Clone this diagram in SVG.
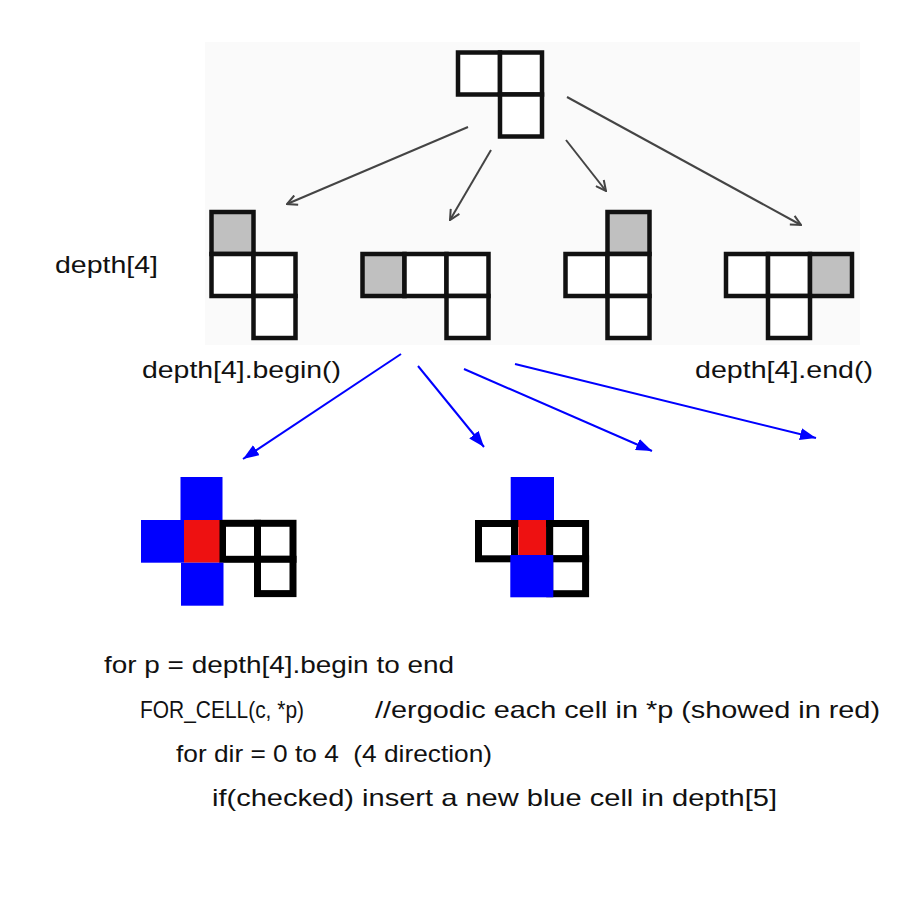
<svg xmlns="http://www.w3.org/2000/svg" width="900" height="900" viewBox="0 0 900 900">
<style>
.cell{fill:#ffffff;stroke:#111;stroke-width:4.5;stroke-linejoin:miter}
.grey{fill:#c0c0c0}
.bcell{fill:#ffffff;stroke:#000;stroke-width:7}
.blue{fill:#0000ff}
.red{fill:#ee1111}
.txt{font-family:"Liberation Sans",Arial,sans-serif;font-size:24px;fill:#111}
.tarrow{stroke:#444;stroke-width:2;fill:none;marker-end:url(#open)}
.barrow{stroke:#0000ff;stroke-width:2;fill:none;marker-end:url(#solid)}
</style>
<defs>
<marker id="open" viewBox="0 0 12 12" refX="11" refY="6" markerWidth="12" markerHeight="12" markerUnits="userSpaceOnUse" orient="auto">
<path d="M1,1 L11,6 L1,11" fill="none" stroke="#444" stroke-width="2"/>
</marker>
<marker id="solid" viewBox="0 0 16 12" refX="16" refY="6" markerWidth="16" markerHeight="12" markerUnits="userSpaceOnUse" orient="auto">
<path d="M0,0 L16,6 L0,12 Z" fill="#0000ff"/>
</marker>
</defs>
<rect width="900" height="900" fill="#ffffff"/>
<rect x="205" y="42" width="655" height="303" fill="#fafafa"/>

<g id="root">
<rect class="cell" x="458" y="52.5" width="42" height="42"/>
<rect class="cell" x="500" y="52.5" width="42" height="42"/>
<rect class="cell" x="500" y="94.5" width="42" height="42"/>
</g>

<g id="child1">
<rect class="cell grey" x="211.5" y="212" width="42" height="42"/>
<rect class="cell" x="211.5" y="254" width="42" height="42"/>
<rect class="cell" x="253.5" y="254" width="42" height="42"/>
<rect class="cell" x="253.5" y="296" width="42" height="42"/>
</g>

<g id="child2">
<rect class="cell grey" x="362.5" y="254" width="42" height="42"/>
<rect class="cell" x="404.5" y="254" width="42" height="42"/>
<rect class="cell" x="446.5" y="254" width="42" height="42"/>
<rect class="cell" x="446.5" y="296" width="42" height="42"/>
</g>

<g id="child3">
<rect class="cell grey" x="607.5" y="212" width="42" height="42"/>
<rect class="cell" x="565.5" y="254" width="42" height="42"/>
<rect class="cell" x="607.5" y="254" width="42" height="42"/>
<rect class="cell" x="607.5" y="296" width="42" height="42"/>
</g>

<g id="child4">
<rect class="cell" x="726" y="254" width="42" height="42"/>
<rect class="cell" x="768" y="254" width="42" height="42"/>
<rect class="cell grey" x="810" y="254" width="42" height="42"/>
<rect class="cell" x="768" y="296" width="42" height="42"/>
</g>

<g id="expand1">
<rect class="bcell" x="222.5" y="523.3" width="35" height="36"/>
<rect class="bcell" x="257.5" y="523.3" width="35.5" height="36"/>
<rect class="bcell" x="257.5" y="559.3" width="35.5" height="34.3"/>
<rect class="red" x="184" y="520" width="35.5" height="42.7"/>
<rect class="blue" x="180.5" y="477" width="42" height="43"/>
<rect class="blue" x="141" y="520" width="43" height="42.7"/>
<rect class="blue" x="181" y="562.7" width="42.5" height="43"/>
</g>

<g id="expand2">
<rect class="bcell" x="478.5" y="523.5" width="36" height="35.3"/>
<rect class="bcell" x="514.5" y="523.5" width="35.2" height="35.3"/>
<rect class="bcell" x="549.7" y="523.5" width="35.9" height="35.3"/>
<rect class="bcell" x="549.7" y="558.8" width="35.9" height="34.9"/>
<rect class="red" x="518.3" y="520" width="27.7" height="35"/>
<rect class="blue" x="510.7" y="477" width="43.3" height="43"/>
<rect class="blue" x="510.3" y="555" width="43" height="42.3"/>
</g>

<g id="connectors">
<line class="tarrow" x1="468" y1="127" x2="287" y2="204"/>
<line class="tarrow" x1="491" y1="150" x2="450" y2="220"/>
<line class="tarrow" x1="566" y1="140" x2="606" y2="191"/>
<line class="tarrow" x1="567" y1="97" x2="801" y2="225"/>
<line class="barrow" x1="401" y1="354" x2="243" y2="459"/>
<line class="barrow" x1="418" y1="366" x2="484" y2="447"/>
<line class="barrow" x1="464" y1="369" x2="652" y2="451"/>
<line class="barrow" x1="515" y1="364" x2="816" y2="438"/>
</g>

<g id="labels">
<text class="txt" x="55" y="273" textLength="103" lengthAdjust="spacingAndGlyphs">depth[4]</text>
<text class="txt" x="142" y="378" textLength="199" lengthAdjust="spacingAndGlyphs">depth[4].begin()</text>
<text class="txt" x="695" y="378" textLength="178" lengthAdjust="spacingAndGlyphs">depth[4].end()</text>
</g>

<g id="code">
<text class="txt" x="104" y="673" textLength="350" lengthAdjust="spacingAndGlyphs">for p = depth[4].begin to end</text>
<text class="txt" y="718"><tspan x="140" textLength="164" lengthAdjust="spacingAndGlyphs">FOR_CELL(c, *p)</tspan><tspan x="375" textLength="505" lengthAdjust="spacingAndGlyphs">//ergodic each cell in *p (showed in red)</tspan></text>
<text class="txt" x="176" y="762" textLength="316" lengthAdjust="spacingAndGlyphs" xml:space="preserve">for dir = 0 to 4  (4 direction)</text>
<text class="txt" x="212" y="806" textLength="565" lengthAdjust="spacingAndGlyphs">if(checked) insert a new blue cell in depth[5]</text>
</g>
</svg>
